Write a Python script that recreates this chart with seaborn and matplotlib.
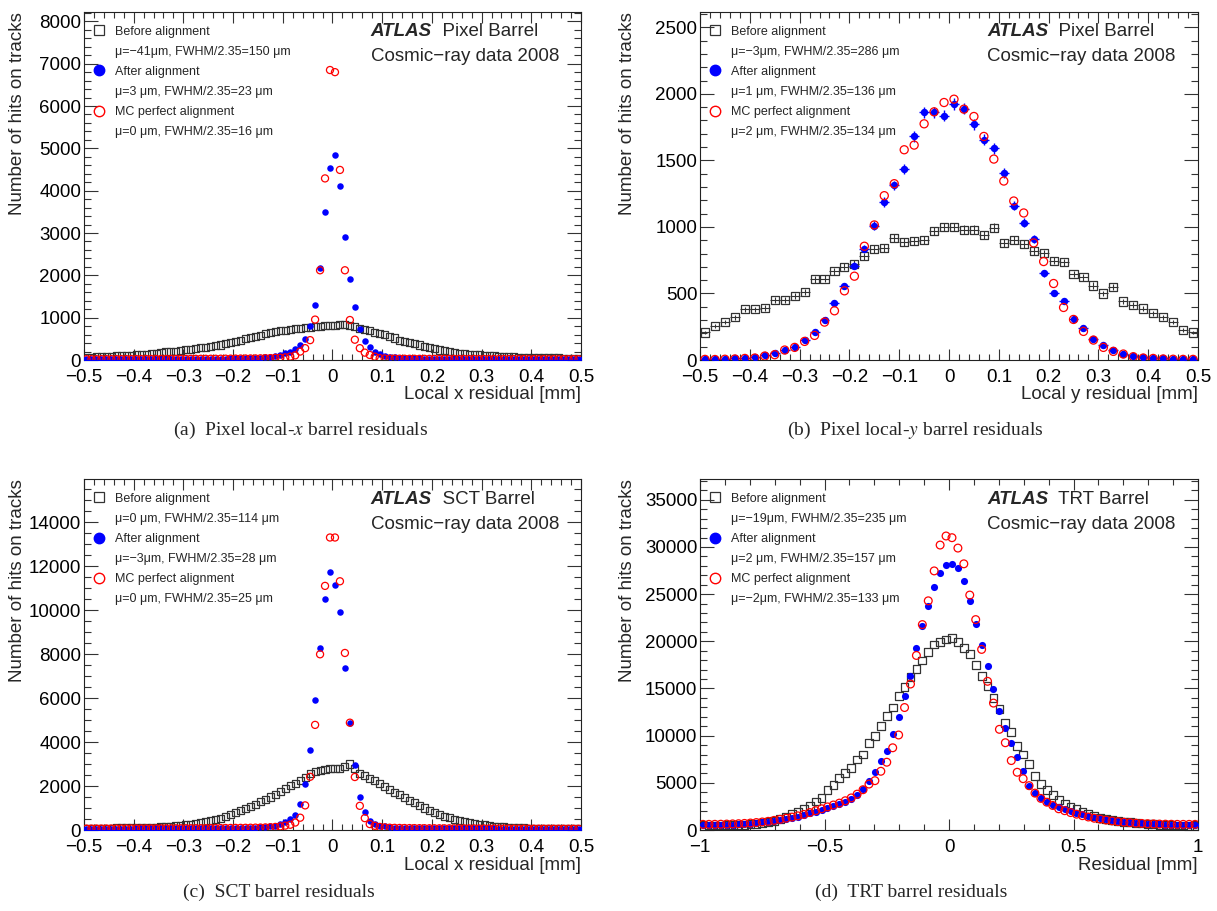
import numpy as np
import matplotlib
matplotlib.use("Agg")
import matplotlib.pyplot as plt
from matplotlib.lines import Line2D
from matplotlib.ticker import MultipleLocator, FuncFormatter
import seaborn as sns

# ── data: hits per bin ────────────────────────────────────────────────
# (a) Pixel local-x, 100 bins of 10 um in [-0.5, 0.5]
A_BEFORE = [63, 68, 72, 76, 82, 94, 96, 100, 108, 115,
            120, 128, 140, 150, 165, 180, 190, 212, 205, 225,
            240, 255, 276, 290, 305, 320, 335, 354, 390, 420,
            440, 472, 500, 530, 560, 590, 620, 650, 675, 692,
            705, 720, 740, 748, 760, 775, 787, 800, 810, 815,
            820, 843, 830, 815, 790, 748, 720, 690, 660, 630,
            600, 560, 520, 472, 440, 410, 380, 354, 325, 295,
            265, 236, 215, 195, 175, 157, 145, 135, 125, 118,
            110, 100, 95, 90, 85, 79, 75, 70, 65, 62,
            58, 56, 55, 52, 50, 48, 45, 42, 40, 39]
A_AFTER = [24, 24, 25, 25, 25, 25, 26, 26, 26, 27,
           27, 27, 28, 28, 28, 29, 29, 30, 30, 30,
           31, 31, 32, 32, 33, 33, 34, 35, 36, 37,
           38, 40, 42, 44, 48, 55, 63, 75, 94, 125,
           165, 200, 265, 365, 505, 810, 1310, 2180, 3500, 4540,
           4850, 4120, 2915, 1920, 1255, 725, 440, 305, 200, 142,
           105, 80, 60, 50, 45, 42, 40, 38, 36, 35,
           34, 33, 33, 32, 32, 31, 31, 30, 30, 29,
           29, 28, 28, 28, 27, 27, 27, 26, 26, 26,
           25, 25, 25, 25, 24, 24, 24, 24, 23, 23]
A_MC = [20, 20, 20, 21, 21, 21, 22, 22, 22, 23,
        23, 23, 24, 24, 24, 25, 25, 26, 26, 27,
        27, 28, 28, 29, 29, 30, 30, 31, 32, 33,
        34, 35, 36, 37, 38, 40, 42, 45, 50, 55,
        62, 80, 110, 200, 280, 470, 955, 2120, 4290, 6850,
        6800, 4490, 2120, 945, 480, 280, 175, 120, 80, 45,
        38, 35, 33, 32, 31, 30, 30, 29, 29, 28,
        28, 27, 27, 26, 26, 26, 25, 25, 25, 24,
        24, 24, 23, 23, 23, 22, 22, 22, 22, 21,
        21, 21, 21, 20, 20, 20, 20, 20, 20, 20]

# (b) Pixel local-y, 50 bins of 20 um in [-0.5, 0.5]
B_BEFORE = [207, 257, 287, 320, 382, 382, 390, 452, 450, 482,
            510, 607, 612, 667, 700, 722, 780, 835, 842, 920,
            890, 897, 900, 972, 1000, 1000, 980, 980, 940, 995,
            880, 900, 872, 820, 802, 747, 735, 647, 622, 560,
            500, 550, 440, 412, 387, 350, 320, 287, 225, 207]
B_AFTER = [5, 5, 10, 17, 12, 20, 40, 50, 75, 100,
           150, 210, 300, 432, 555, 707, 837, 1010, 1187, 1312,
           1437, 1682, 1860, 1860, 1837, 1925, 1890, 1772, 1655, 1590,
           1407, 1160, 1032, 912, 652, 505, 445, 312, 242, 157,
           112, 72, 45, 27, 22, 17, 12, 10, 7, 5]
B_MC = [5, 4, 6, 8, 12, 15, 30, 40, 75, 95,
        140, 185, 285, 370, 520, 630, 855, 1015, 1235, 1325,
        1580, 1615, 1775, 1865, 1935, 1960, 1885, 1830, 1680, 1510,
        1345, 1195, 1105, 880, 740, 575, 395, 305, 215, 150,
        95, 65, 45, 25, 15, 12, 8, 6, 5, 5]

# (c) SCT, 100 bins of 10 um in [-0.5, 0.5]
C_BEFORE = [75, 78, 80, 82, 85, 88, 92, 96, 100, 104,
            108, 112, 118, 124, 132, 140, 150, 165, 185, 210,
            240, 270, 300, 340, 380, 430, 480, 540, 610, 720,
            800, 880, 970, 1060, 1160, 1300, 1400, 1500, 1630, 1770,
            1900, 2020, 2130, 2260, 2400, 2550, 2650, 2720, 2760, 2780,
            2790, 2810, 2880, 3000, 2800, 2580, 2470, 2360, 2240, 2120,
            1980, 1850, 1720, 1600, 1480, 1360, 1240, 1120, 1000, 880,
            780, 700, 620, 550, 490, 430, 380, 330, 290, 260,
            230, 200, 175, 155, 140, 125, 112, 100, 92, 85,
            78, 72, 68, 64, 60, 57, 54, 52, 50, 48]
C_AFTER = [60, 60, 62, 62, 63, 64, 65, 66, 67, 68,
           69, 70, 71, 72, 73, 74, 75, 76, 77, 78,
           79, 80, 81, 82, 84, 86, 88, 90, 92, 95,
           98, 100, 104, 108, 113, 120, 135, 160, 200, 260,
           360, 490, 690, 1170, 2110, 3640, 5910, 8260, 10490, 11740,
           11160, 9915, 7350, 4850, 2950, 1500, 800, 430, 290, 200,
           160, 130, 110, 100, 95, 92, 90, 88, 86, 84,
           82, 80, 79, 78, 77, 76, 75, 74, 73, 72,
           71, 70, 69, 68, 67, 66, 65, 64, 63, 62,
           62, 61, 61, 60, 60, 60, 59, 59, 58, 58]
C_MC = [65, 65, 66, 66, 67, 68, 68, 69, 70, 70,
        71, 72, 72, 73, 74, 75, 75, 76, 77, 78,
        79, 80, 81, 82, 83, 85, 87, 89, 91, 94,
        96, 98, 100, 104, 108, 112, 118, 125, 140, 165,
        200, 240, 340, 560, 1120, 2420, 4780, 7990, 11100, 13300,
        13300, 11310, 8050, 4880, 2410, 1100, 540, 270, 190, 140,
        120, 105, 98, 94, 90, 88, 86, 84, 82, 80,
        79, 78, 77, 76, 75, 74, 73, 72, 71, 70,
        69, 68, 67, 66, 65, 64, 63, 62, 62, 61,
        61, 60, 60, 60, 59, 59, 58, 58, 58, 57]

# (d) TRT, 84 bins in [-1, 1]
D_BEFORE = [460, 470, 480, 490, 500, 510, 530, 560, 600, 650,
            720, 820, 960, 1170, 1420, 1670, 1960, 2200, 2560, 3020,
            3380, 4270, 4800, 5510, 6050, 6580, 7470, 8000, 9250, 9960,
            11030, 12090, 12980, 14230, 15120, 16200, 17070, 17960, 18850, 19670,
            19920, 20200,
            20350, 19920, 19310, 18670, 17500, 16360, 15300, 13980, 12800, 11380,
            10420, 8890, 8000, 7010, 5690, 4870, 4270, 3730, 3200, 2800,
            2470, 2190, 1940, 1700, 1480, 1300, 1130, 1060, 950, 880,
            820, 760, 700, 650, 600, 560, 530, 500, 480, 470,
            460, 450]
D_AFTER = [525, 530, 535, 545, 560, 580, 600, 640, 690, 740,
           800, 880, 980, 1080, 1180, 1300, 1430, 1580, 1750, 1950,
           2150, 2350, 2550, 2750, 3000, 3300, 3700, 4340, 5160, 6120,
           7360, 8360, 10200, 12020, 14230, 16360, 19280, 21630, 23730, 25720,
           27210, 28100,
           28200, 27750, 26390, 24290, 21880, 19630, 17360, 14940, 12560, 10850,
           9180, 7720, 6300, 4620, 3900, 3400, 3000, 2650, 2400, 2200,
           2000, 1820, 1650, 1480, 1340, 1240, 1130, 1050, 950, 880,
           810, 760, 710, 660, 620, 600, 580, 560, 550, 540,
           530, 520]
D_MC = [600, 600, 605, 615, 630, 650, 670, 700, 740, 790,
        850, 920, 1020, 1130, 1250, 1370, 1500, 1650, 1850, 2050,
        2250, 2450, 2650, 2850, 3100, 3400, 3800, 4270, 4870, 5230,
        6225, 7185, 8715, 10070, 12980, 15470, 18500, 21770, 24290, 27460,
        30200, 31160,
        30980, 29880, 28210, 24900, 22300, 19140, 15760, 13450, 10670, 9250,
        7360, 6120, 5440, 4700, 3910, 3350, 2950, 2600, 2250, 2050,
        1850, 1680, 1520, 1380, 1250, 1150, 1050, 960, 890, 830,
        780, 730, 700, 670, 650, 630, 620, 610, 600, 600,
        600, 600]

STATS = {
    "a": ["\u03bc=\u221241\u03bcm, FWHM/2.35=150 \u03bcm",
          "\u03bc=3 \u03bcm, FWHM/2.35=23 \u03bcm",
          "\u03bc=0 \u03bcm, FWHM/2.35=16 \u03bcm"],
    "b": ["\u03bc=\u22123\u03bcm, FWHM/2.35=286 \u03bcm",
          "\u03bc=1 \u03bcm, FWHM/2.35=136 \u03bcm",
          "\u03bc=2 \u03bcm, FWHM/2.35=134 \u03bcm"],
    "c": ["\u03bc=0 \u03bcm, FWHM/2.35=114 \u03bcm",
          "\u03bc=\u22123\u03bcm, FWHM/2.35=28 \u03bcm",
          "\u03bc=0 \u03bcm, FWHM/2.35=25 \u03bcm"],
    "d": ["\u03bc=\u221219\u03bcm, FWHM/2.35=235 \u03bcm",
          "\u03bc=2 \u03bcm, FWHM/2.35=157 \u03bcm",
          "\u03bc=\u22122\u03bcm, FWHM/2.35=133 \u03bcm"],
}


def bin_centers(lo, hi, n):
    w = (hi - lo) / n
    return lo + w * (np.arange(n) + 0.5)


def fmt_tick(v, pos):
    v = round(v, 6)
    if abs(v) < 1e-9:
        return "0"
    return f"{v:g}".replace("-", "\u2212")


sns.set_theme(style="ticks")
plt.rcParams["font.family"] = ["Liberation Sans", "DejaVu Sans"]
plt.rcParams["mathtext.fontset"] = "stix"

FS = 13.5
GRAY = "#333333"

fig = plt.figure(figsize=(12.17, 9.11), dpi=100)


def hollow(ax, color, lw):
    pts = ax.collections[-1]
    pts.set_facecolor("none")
    pts.set_edgecolor(color)
    pts.set_linewidth(lw)


def draw_panel(rect, key, x, before, after, mc, xlim, ymax, xmaj, xmin,
               ymaj, ymin, xlabel, detector, ylab_x, errors=False, msize=1.0):
    ax = fig.add_axes(rect)
    x = np.asarray(x)
    if errors:
        ax.errorbar(x, before, yerr=np.sqrt(before), xerr=(x[1] - x[0]) / 2,
                    fmt="none", ecolor=GRAY, elinewidth=0.8, capsize=0, zorder=1)
    sns.scatterplot(x=x, y=before, marker="s", s=26 * msize, ax=ax,
                    legend=False, zorder=2)
    hollow(ax, GRAY, 0.9)
    if errors:
        ax.errorbar(x, after, yerr=np.sqrt(after), xerr=(x[1] - x[0]) / 2,
                    fmt="none", ecolor="blue", elinewidth=1.0, capsize=0, zorder=3)
    sns.scatterplot(x=x, y=after, marker="o", s=22 * msize, color="blue",
                    linewidth=0, ax=ax, legend=False, zorder=4)
    sns.scatterplot(x=x, y=mc, marker="o", s=26 * msize, ax=ax,
                    legend=False, zorder=5)
    hollow(ax, "red", 0.9)

    ax.set_xlim(*xlim)
    ax.set_ylim(0, ymax)
    ax.xaxis.set_major_locator(MultipleLocator(xmaj))
    ax.xaxis.set_minor_locator(MultipleLocator(xmin))
    ax.yaxis.set_major_locator(MultipleLocator(ymaj))
    ax.yaxis.set_minor_locator(MultipleLocator(ymin))
    ax.xaxis.set_major_formatter(FuncFormatter(fmt_tick))
    ax.yaxis.set_major_formatter(FuncFormatter(fmt_tick))
    ax.tick_params(which="both", direction="in", top=True, right=True,
                   color=GRAY, width=0.8, labelsize=FS, labelcolor="black")
    ax.xaxis.set_tick_params(which="major", length=8, pad=6.5)
    ax.xaxis.set_tick_params(which="minor", length=4)
    ax.yaxis.set_tick_params(which="major", length=10, pad=2)
    ax.yaxis.set_tick_params(which="minor", length=5)
    for sp in ax.spines.values():
        sp.set_linewidth(0.8)
        sp.set_color("#222222")

    ax.set_xlabel(xlabel, fontsize=FS, loc="right")
    ax.set_ylabel("Number of hits on tracks", fontsize=FS, loc="top")
    ax.xaxis.set_label_coords(1.0, -0.076)
    ax.yaxis.set_label_coords(ylab_x, 1.0)

    handles = [
        Line2D([], [], marker="s", ls="none", mfc="none", mec=GRAY, ms=7, mew=0.9),
        Line2D([], [], ls="none"),
        Line2D([], [], marker="o", ls="none", mfc="blue", mec="blue", ms=7.5),
        Line2D([], [], ls="none"),
        Line2D([], [], marker="o", ls="none", mfc="none", mec="red", ms=7.5, mew=1.0),
        Line2D([], [], ls="none"),
    ]
    stats = STATS[key]
    labels = ["Before alignment", stats[0], "After alignment", stats[1],
              "MC perfect alignment", stats[2]]
    ax.legend(handles, labels, loc="upper left", bbox_to_anchor=(0.0176, 0.961),
              frameon=False, fontsize=9, borderpad=0, borderaxespad=0,
              handlelength=1.0, handletextpad=0.78, labelspacing=0.65)

    t = ax.text(0.577, 0.943, "ATLAS", transform=ax.transAxes, fontsize=FS,
                fontweight="bold", fontstyle="italic", va="center")
    ax.annotate("  " + detector, xy=(1, 0), xycoords=t, va="bottom", fontsize=FS)
    ax.text(0.577, 0.871, "Cosmic\u2212ray data 2008", transform=ax.transAxes,
            fontsize=FS, va="center")
    return ax


draw_panel([0.0690, 0.6048, 0.4084, 0.3820], "a", bin_centers(-0.5, 0.5, 100),
           A_BEFORE, A_AFTER, A_MC, (-0.5, 0.5), 8220, 0.1, 0.02, 1000, 200,
           "Local x residual [mm]", "Pixel Barrel", -0.117)
draw_panel([0.5752, 0.6048, 0.4092, 0.3820], "b", bin_centers(-0.5, 0.5, 50),
           B_BEFORE, B_AFTER, B_MC, (-0.5, 0.5), 2615, 0.1, 0.02, 500, 100,
           "Local y residual [mm]", "Pixel Barrel", -0.1285, errors=True, msize=1.3)
draw_panel([0.0690, 0.0889, 0.4084, 0.3853], "c", bin_centers(-0.5, 0.5, 100),
           C_BEFORE, C_AFTER, C_MC, (-0.5, 0.5), 15960, 0.1, 0.02, 2000, 500,
           "Local x residual [mm]", "SCT Barrel", -0.117)
draw_panel([0.5752, 0.0889, 0.4092, 0.3853], "d", bin_centers(-1.0, 1.0, 84),
           D_BEFORE, D_AFTER, D_MC, (-1.0, 1.0), 37200, 0.5, 0.1, 5000, 1000,
           "Residual [mm]", "TRT Barrel", -0.1285, msize=1.2)

CAPTIONS = [(0.247, 0.528, "(a)  Pixel local-$x$ barrel residuals"),
            (0.752, 0.528, "(b)  Pixel local-$y$ barrel residuals"),
            (0.229, 0.020, "(c)  SCT barrel residuals"),
            (0.749, 0.020, "(d)  TRT barrel residuals")]
for cx, cy, txt in CAPTIONS:
    fig.text(cx, cy, txt, ha="center", va="center", fontsize=14,
             fontfamily="Liberation Serif")

fig.savefig("out.png", dpi=100)
